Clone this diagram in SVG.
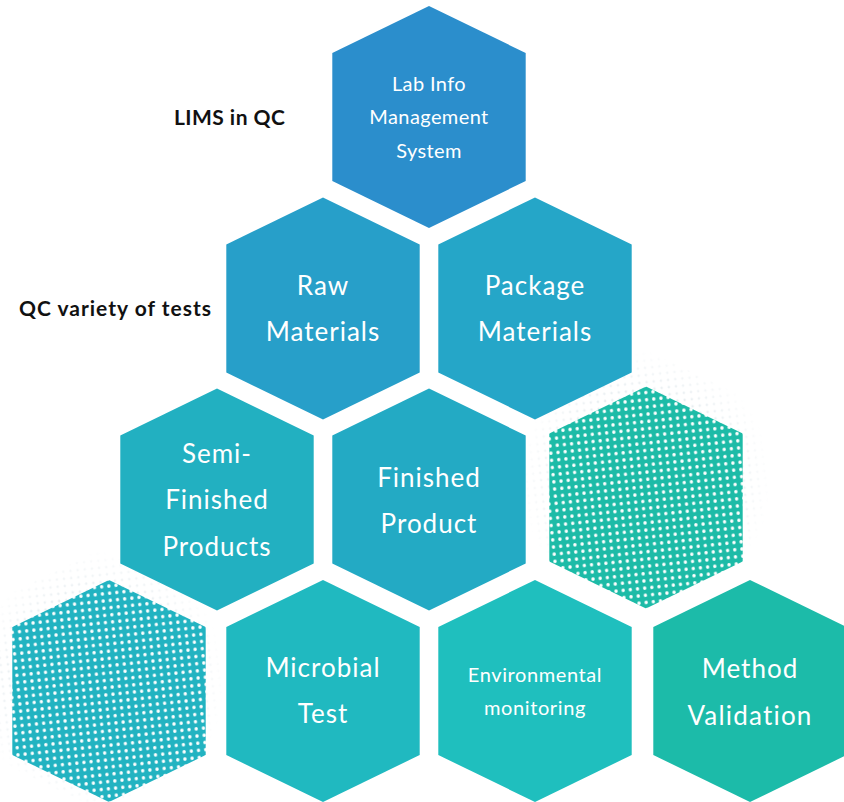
<svg xmlns="http://www.w3.org/2000/svg" width="844" height="802" viewBox="0 0 844 802">
<style>
.lbl{font-family:Lato,"Liberation Sans",sans-serif;fill:#ffffff;text-anchor:middle}
.big{font-size:26px;letter-spacing:1px}
.small{font-size:20px;letter-spacing:0.4px}
.side{font-family:Lato,"Liberation Sans",sans-serif;font-weight:bold;font-size:21px;fill:#111111}
</style>
<defs>
<path id="hex" d="M0,-111 L96.7,-64 L96.7,64 L0,111 L-96.7,64 L-96.7,-64 Z"/>
<path id="hexbig" d="M0,-130 L125,-70 L125,70 L0,130 L-125,70 L-125,-70 Z"/>
<pattern id="dotsA" width="7.2" height="7.2" patternUnits="userSpaceOnUse" patternTransform="rotate(-6)">
<rect width="7.2" height="7.2" fill="#1dbba7"/>
<circle cx="3.6" cy="3.6" r="1.7" fill="#ffffff"/>
</pattern>
<pattern id="dotsB" width="7.2" height="7.2" patternUnits="userSpaceOnUse" patternTransform="rotate(-6)">
<rect width="7.2" height="7.2" fill="#22b3c1"/>
<circle cx="3.6" cy="3.6" r="1.7" fill="#ffffff"/>
</pattern>
<pattern id="faint" width="7.2" height="7.2" patternUnits="userSpaceOnUse" patternTransform="rotate(-6)">
<circle cx="3.6" cy="3.6" r="1.3" fill="#e3eaee"/>
</pattern>
<radialGradient id="fadeG">
<stop offset="0.6" stop-color="#fff" stop-opacity="1"/>
<stop offset="1" stop-color="#fff" stop-opacity="0"/>
</radialGradient>
<mask id="fadeM" maskContentUnits="objectBoundingBox">
<rect width="1" height="1" fill="url(#fadeG)"/>
</mask>
</defs>
<rect width="844" height="802" fill="#ffffff"/>

<g id="faint-bg">
<use href="#hexbig" x="646" y="480" fill="url(#faint)" mask="url(#fadeM)"/>
<use href="#hexbig" x="100" y="680" fill="url(#faint)" mask="url(#fadeM)"/>
</g>

<g id="connectors"/>

<g id="lims">
<use href="#hex" x="429" y="117" fill="#2b8ecc"/>
<text class="lbl small" x="429" y="90.5">Lab Info</text>
<text class="lbl small" x="429" y="124">Management</text>
<text class="lbl small" x="429" y="157.5">System</text>
</g>

<g id="raw-materials">
<use href="#hex" x="323" y="308.5" fill="#279fc9"/>
<text class="lbl big" x="323" y="294.5">Raw</text>
<text class="lbl big" x="323" y="340.5">Materials</text>
</g>

<g id="package-materials">
<use href="#hex" x="535" y="308.5" fill="#25a6c8"/>
<text class="lbl big" x="535" y="294.5">Package</text>
<text class="lbl big" x="535" y="340.5">Materials</text>
</g>

<g id="semi-finished">
<use href="#hex" x="217" y="499.5" fill="#22b0c1"/>
<text class="lbl big" x="217" y="462.5">Semi-</text>
<text class="lbl big" x="217" y="509">Finished</text>
<text class="lbl big" x="217" y="556">Products</text>
</g>

<g id="finished-product">
<use href="#hex" x="429" y="499.5" fill="#23aac4"/>
<text class="lbl big" x="429" y="486.5">Finished</text>
<text class="lbl big" x="429" y="532.5">Product</text>
</g>

<g id="dotted-right">
<use href="#hex" x="646" y="497.5" fill="url(#dotsA)"/>
</g>

<g id="dotted-left">
<use href="#hex" x="109" y="691" fill="url(#dotsB)"/>
</g>

<g id="microbial-test">
<use href="#hex" x="323" y="691" fill="#20b9c0"/>
<text class="lbl big" x="323" y="676.5">Microbial</text>
<text class="lbl big" x="323" y="723">Test</text>
</g>

<g id="environmental-monitoring">
<use href="#hex" x="535" y="691" fill="#1fbfbe"/>
<text class="lbl small" x="535" y="682" style="letter-spacing:0.6px">Environmental</text>
<text class="lbl small" x="535" y="715" style="letter-spacing:0.6px">monitoring</text>
</g>

<g id="method-validation">
<use href="#hex" x="750" y="691" fill="#1cbba9"/>
<text class="lbl big" x="750" y="678">Method</text>
<text class="lbl big" x="750" y="725" style="letter-spacing:1.2px">Validation</text>
</g>

<g id="side-labels">
<text class="side" x="174" y="125" style="letter-spacing:0.45px">LIMS in QC</text>
<text class="side" x="19" y="315.5" style="letter-spacing:1px">QC variety of tests</text>
</g>
</svg>
